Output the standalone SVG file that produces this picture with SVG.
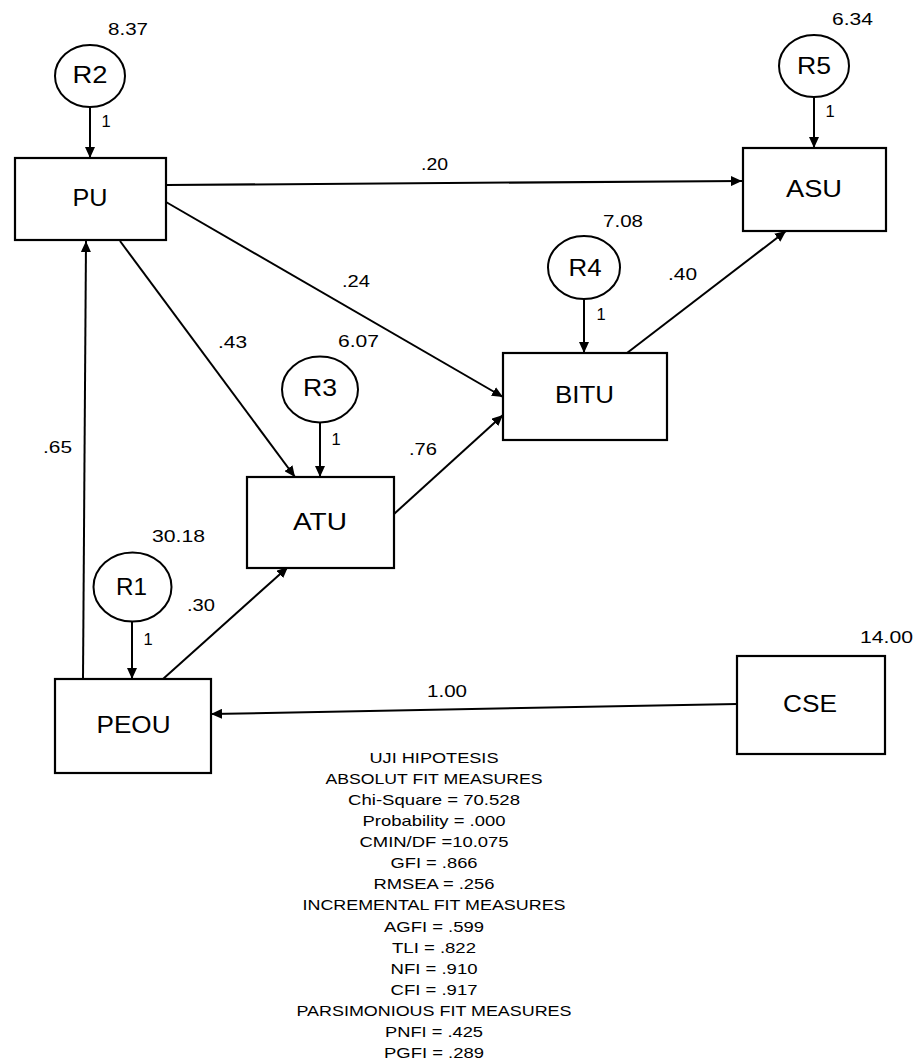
<svg xmlns="http://www.w3.org/2000/svg" width="920" height="1060" viewBox="0 0 920 1060">
<style>
text{font-family:"Liberation Sans",Arial,Helvetica,sans-serif;fill:#000;text-anchor:middle}
.box{fill:#fff;stroke:#000;stroke-width:2.2}
.err{fill:#fff;stroke:#000;stroke-width:2}
.node{font-size:24px}
.rl{font-size:23px}
.lab{font-size:16.5px}
.fit{font-size:15px}
.con{fill:none;stroke:#000;stroke-width:2}
</style>
<defs>
<marker id="ah" viewBox="0 0 11 10" refX="11" refY="5" markerWidth="11" markerHeight="10" markerUnits="userSpaceOnUse" orient="auto">
<path d="M0,0 L11,5 L0,10 z" fill="#000"/>
</marker>
</defs>
<rect width="920" height="1060" fill="#fff"/>
<g id="connectors">
<line class="con" x1="90" y1="107" x2="90" y2="158" marker-end="url(#ah)"/>
<line class="con" x1="814" y1="97" x2="814" y2="148" marker-end="url(#ah)"/>
<line class="con" x1="584" y1="299" x2="584" y2="353" marker-end="url(#ah)"/>
<line class="con" x1="320" y1="422" x2="320" y2="477" marker-end="url(#ah)"/>
<line class="con" x1="132" y1="621" x2="132" y2="679" marker-end="url(#ah)"/>
<line class="con" x1="166" y1="185" x2="742" y2="181" marker-end="url(#ah)"/>
<line class="con" x1="166" y1="202" x2="503" y2="397" marker-end="url(#ah)"/>
<line class="con" x1="120" y1="241" x2="295" y2="477" marker-end="url(#ah)"/>
<line class="con" x1="394" y1="514" x2="503" y2="415" marker-end="url(#ah)"/>
<line class="con" x1="627" y1="353" x2="786" y2="231" marker-end="url(#ah)"/>
<line class="con" x1="83" y1="679" x2="86" y2="241" marker-end="url(#ah)"/>
<line class="con" x1="163" y1="679" x2="288" y2="567" marker-end="url(#ah)"/>
<line class="con" x1="737" y1="704" x2="211" y2="714" marker-end="url(#ah)"/>
<text class="lab" x="434.5" y="170" textLength="27" lengthAdjust="spacingAndGlyphs">.20</text>
<text class="lab" x="356" y="287" textLength="28" lengthAdjust="spacingAndGlyphs">.24</text>
<text class="lab" x="232.5" y="348" textLength="29" lengthAdjust="spacingAndGlyphs">.43</text>
<text class="lab" x="682.5" y="280" textLength="29" lengthAdjust="spacingAndGlyphs">.40</text>
<text class="lab" x="423" y="455" textLength="28" lengthAdjust="spacingAndGlyphs">.76</text>
<text class="lab" x="57.5" y="453" textLength="29" lengthAdjust="spacingAndGlyphs">.65</text>
<text class="lab" x="201" y="611" textLength="28" lengthAdjust="spacingAndGlyphs">.30</text>
<text class="lab" x="447" y="697" textLength="40" lengthAdjust="spacingAndGlyphs">1.00</text>
<text class="lab" x="106" y="127">1</text>
<text class="lab" x="830" y="117">1</text>
<text class="lab" x="601" y="320">1</text>
<text class="lab" x="336" y="445">1</text>
<text class="lab" x="148" y="645">1</text>
</g>
<g id="R2">
<ellipse class="err" cx="90" cy="76" rx="35" ry="31"/>
<text class="rl" x="90" y="83" textLength="35" lengthAdjust="spacingAndGlyphs">R2</text>
<text class="lab" x="128" y="35" textLength="40" lengthAdjust="spacingAndGlyphs">8.37</text>
</g>
<g id="R5">
<ellipse class="err" cx="814" cy="66" rx="35" ry="31"/>
<text class="rl" x="814" y="74" textLength="34" lengthAdjust="spacingAndGlyphs">R5</text>
<text class="lab" x="852.5" y="25" textLength="41" lengthAdjust="spacingAndGlyphs">6.34</text>
</g>
<g id="R4">
<ellipse class="err" cx="584" cy="267.5" rx="36" ry="31.5"/>
<text class="rl" x="585" y="276" textLength="33" lengthAdjust="spacingAndGlyphs">R4</text>
<text class="lab" x="623" y="227" textLength="40" lengthAdjust="spacingAndGlyphs">7.08</text>
</g>
<g id="R3">
<ellipse class="err" cx="320" cy="389.5" rx="38" ry="33"/>
<text class="rl" x="320" y="396" textLength="34" lengthAdjust="spacingAndGlyphs">R3</text>
<text class="lab" x="358.5" y="347" textLength="41" lengthAdjust="spacingAndGlyphs">6.07</text>
</g>
<g id="R1">
<ellipse class="err" cx="132.5" cy="587" rx="39" ry="34.5"/>
<text class="rl" x="131.5" y="595" textLength="31" lengthAdjust="spacingAndGlyphs">R1</text>
<text class="lab" x="178.5" y="542" textLength="53" lengthAdjust="spacingAndGlyphs">30.18</text>
</g>
<g id="PU">
<rect class="box" x="15" y="158" width="151" height="82"/>
<text class="node" x="90" y="206" textLength="35" lengthAdjust="spacingAndGlyphs">PU</text>
</g>
<g id="ASU">
<rect class="box" x="743" y="148" width="143" height="83"/>
<text class="node" x="814" y="197" textLength="56" lengthAdjust="spacingAndGlyphs">ASU</text>
</g>
<g id="BITU">
<rect class="box" x="503" y="353" width="164" height="87"/>
<text class="node" x="584.5" y="403" textLength="59" lengthAdjust="spacingAndGlyphs">BITU</text>
</g>
<g id="ATU">
<rect class="box" x="247" y="477" width="147" height="91"/>
<text class="node" x="320" y="530" textLength="54" lengthAdjust="spacingAndGlyphs">ATU</text>
</g>
<g id="PEOU">
<rect class="box" x="55" y="679" width="156" height="94"/>
<text class="node" x="133.5" y="733" textLength="74" lengthAdjust="spacingAndGlyphs">PEOU</text>
</g>
<g id="CSE">
<rect class="box" x="737" y="656" width="148" height="98"/>
<text class="node" x="810" y="712" textLength="54" lengthAdjust="spacingAndGlyphs">CSE</text>
<text class="lab" x="886.5" y="643" textLength="53" lengthAdjust="spacingAndGlyphs">14.00</text>
</g>
<g id="fit-measures">
<text class="fit" x="434" y="762.7" textLength="129" lengthAdjust="spacingAndGlyphs">UJI HIPOTESIS</text>
<text class="fit" x="434" y="783.8" textLength="217" lengthAdjust="spacingAndGlyphs">ABSOLUT FIT MEASURES</text>
<text class="fit" x="434" y="804.9" textLength="172" lengthAdjust="spacingAndGlyphs">Chi-Square = 70.528</text>
<text class="fit" x="434" y="826" textLength="143" lengthAdjust="spacingAndGlyphs">Probability = .000</text>
<text class="fit" x="434" y="847.1" textLength="149" lengthAdjust="spacingAndGlyphs">CMIN/DF =10.075</text>
<text class="fit" x="434" y="868.2" textLength="87" lengthAdjust="spacingAndGlyphs">GFI = .866</text>
<text class="fit" x="434" y="889.3" textLength="121" lengthAdjust="spacingAndGlyphs">RMSEA = .256</text>
<text class="fit" x="434" y="910.4" textLength="263" lengthAdjust="spacingAndGlyphs">INCREMENTAL FIT MEASURES</text>
<text class="fit" x="434" y="931.5" textLength="100" lengthAdjust="spacingAndGlyphs">AGFI = .599</text>
<text class="fit" x="434" y="952.6" textLength="84" lengthAdjust="spacingAndGlyphs">TLI = .822</text>
<text class="fit" x="434" y="973.7" textLength="87" lengthAdjust="spacingAndGlyphs">NFI = .910</text>
<text class="fit" x="434" y="994.8" textLength="87" lengthAdjust="spacingAndGlyphs">CFI = .917</text>
<text class="fit" x="434" y="1015.9" textLength="275" lengthAdjust="spacingAndGlyphs">PARSIMONIOUS FIT MEASURES</text>
<text class="fit" x="434" y="1037" textLength="98" lengthAdjust="spacingAndGlyphs">PNFI = .425</text>
<text class="fit" x="434" y="1058.1" textLength="100" lengthAdjust="spacingAndGlyphs">PGFI = .289</text>
</g>
</svg>
